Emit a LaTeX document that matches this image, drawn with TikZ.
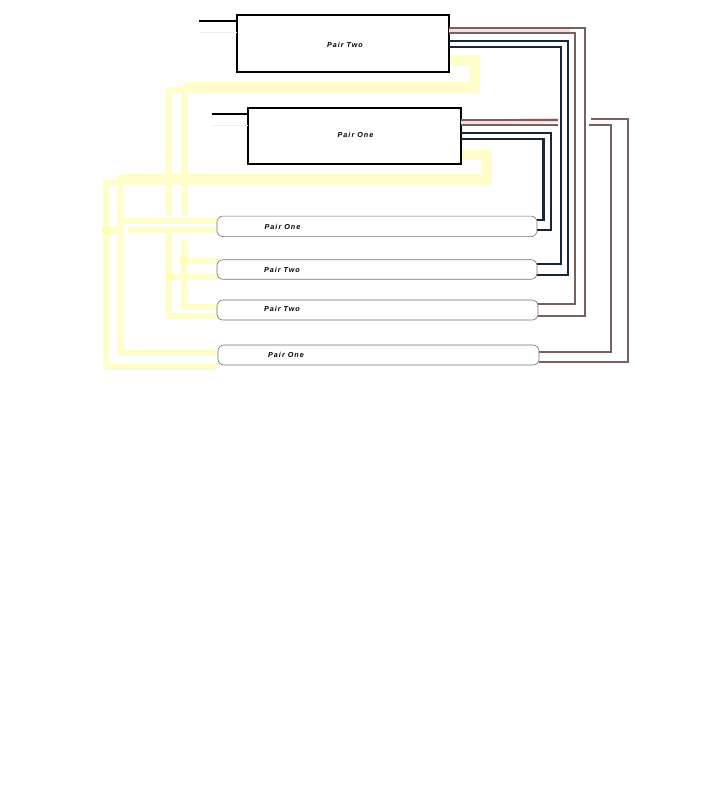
\documentclass[tikz,border=0pt]{standalone}
\usepackage{fontspec}
\setmainfont{Liberation Sans}
\newfontfamily\lblfont[LetterSpace=14]{Liberation Sans}
\definecolor{wirebrown}{HTML}{7A5F60}
\definecolor{wirehalo}{HTML}{F8DEDE}
\definecolor{wiredark}{HTML}{16263C}
\definecolor{wireyellow}{HTML}{FFFECB}
\definecolor{wiregold}{HTML}{FFFDB0}
\definecolor{wirepale}{HTML}{EEF0EC}
\tikzset{
  x=1pt,y=-1pt,
  ballast/.style={draw=black,line width=2.5pt,rectangle,inner sep=0pt,outer sep=0pt},
  tube/.style={draw=black!55,line width=0.6pt,rectangle,rounded corners=6pt,inner sep=0pt,outer sep=0pt},
  lbl/.style={font=\lblfont\bfseries\itshape\fontsize{7.2}{8}\selectfont,inner sep=0pt},
  brown/.style={draw=wirebrown,line width=2.4pt},
  halo/.style={draw=wirehalo,line width=5pt},
  darkwire/.style={draw=wiredark,line width=2.4pt},
  yel/.style={draw=wireyellow,line width=6pt},
  yelthick/.style={draw=wireyellow,line width=11pt},
  stub/.style={draw=black,line width=2.2pt},
  palestub/.style={draw=wirepale,line width=1pt}
}
\begin{document}
\begin{tikzpicture}
\useasboundingbox (0,0) rectangle (720,785);
\fill[white] (0,0) rectangle (720,785);
% nodes
\node[ballast,minimum width=212pt,minimum height=57pt] (B2) at (343,43.5) {};
\node[ballast,minimum width=213pt,minimum height=56pt] (B1) at (354.5,136) {};
% yellow wires
\draw[yelthick] (B2.east |- 0,60) -- (474,60) -- (474,87.5) -- (185,87.5);
\draw[yel] (185,85) -- (185,216);
\draw[yel] (190,90) -- (168.5,90) -- (168.5,216);
\draw[yelthick] (B1.east |- 0,154) -- (486,154) -- (486,179) -- (124,179);
\draw[yel] (130,178) -- (120,178) -- (120,352.5) -- (217,352.5);
\draw[yel] (120,183) -- (106,183) -- (106,366.5) -- (217,366.5);
\draw[yel] (120,221) -- (217,221);
\draw[yel] (106,230) -- (120,230);
\draw[yel] (128,230) -- (217,230);
\draw[yel] (184,240) -- (184,307) -- (217,307);
\draw[yel] (184,261) -- (217,261);
\draw[yel] (168.5,232) -- (168.5,316) -- (217,316);
\draw[yel] (168.5,277) -- (217,277);
\fill[wiregold] (106,231) circle (4.5pt) (184,261) circle (4.5pt) (170,277) circle (4.5pt);
% ballasts and tubes above the yellow
\node[ballast,minimum width=212pt,minimum height=57pt] at (B2) {};
\node[ballast,minimum width=213pt,minimum height=56pt] at (B1) {};
\node[tube,minimum width=320pt,minimum height=20.5pt] (T1) at (377,226.3) {};
\node[tube,minimum width=320pt,minimum height=19.5pt] (T2) at (377,269.5) {};
\node[tube,minimum width=321pt,minimum height=20pt] (T3) at (377.5,310) {};
\node[tube,minimum width=321pt,minimum height=20pt] (T4) at (378.5,355) {};
% free wire ends
\coordinate (s2a) at (199,21); \coordinate (s2b) at (199,32);
\coordinate (s1a) at (212,114); \coordinate (s1b) at (212,125);
\coordinate (e1a) at (558,120); \coordinate (e1b) at (558,125);
\coordinate (e2a) at (591,119); \coordinate (e2b) at (589,125);
% stubs
\draw[stub] (s2a) -- (B2.west |- s2a);
\draw[stub] (s1a) -- (B1.west |- s1a);
\draw[palestub] (s2b) -- (B2.west |- s2b);
\draw[palestub] (s1b) -- (B1.west |- s1b);
% brown wires from upper ballast
\draw[halo] (B2.east |- 0,30.5) -- (570,30.5);
\draw[brown] (B2.east |- 0,28) -- (585,28) -- (585,316) -- (T3.east |- 0,316);
\draw[brown] (B2.east |- 0,33) -- (575,33) -- (575,304) -- (T3.east |- 0,304);
% dark wires from upper ballast
\draw[darkwire] (B2.east |- 0,41) -- (568,41) -- (568,275) -- (T2.east |- 0,275);
\draw[darkwire] (B2.east |- 0,47) -- (561,47) -- (561,264) -- (T2.east |- 0,264);
% wires from lower ballast
\draw[halo] (B1.east |- 0,122.5) -- (e1a);
\draw[brown] (B1.east |- 0,120) -- (e1a);
\draw[brown] (B1.east |- 0,125) -- (e1b);
\draw[darkwire] (B1.east |- 0,133) -- (551,133) -- (551,230) -- (T1.east |- 0,230);
\draw[darkwire] (B1.east |- 0,139) -- (543.5,139) -- (543.5,220) -- (T1.east |- 0,220);
% continuation to lower tube
\draw[brown] (e2a) -- (628,119) -- (628,362) -- (T4.east |- 0,362);
\draw[brown] (e2b) -- (611,125) -- (611,352) -- (T4.east |- 0,352);
% labels
\node[lbl] (L0) at (345,44.5) {Pair Two};
\node[lbl] (L1) at (355.5,135) {Pair One};
\node[lbl] (L2) at (282.5,227) {Pair One};
\node[lbl] (L3) at (282,269.5) {Pair Two};
\node[lbl] (L4) at (282,309) {Pair Two};
\node[lbl] (L5) at (286,355) {Pair One};
\end{tikzpicture}
\end{document}
